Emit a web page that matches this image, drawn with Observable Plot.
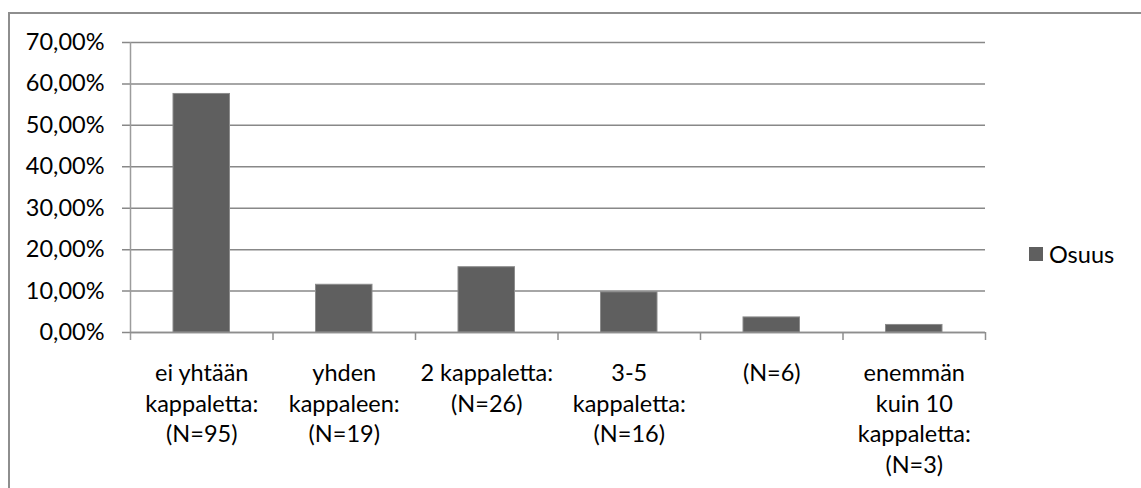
<!DOCTYPE html>
<html>
<head>
<meta charset="utf-8">
<script src="https://cdn.jsdelivr.net/npm/d3@7"></script>
<script src="https://cdn.jsdelivr.net/npm/@observablehq/plot@0.6"></script>
<style>
  html, body { margin: 0; padding: 0; background: #fff; }
  #wrap { position: relative; width: 1141px; height: 488px; overflow: hidden; background: #fff; }
  #frame { position: absolute; left: 8px; top: 12px; width: 1200px; height: 600px;
           border-top: 2px solid #8e8e8e; border-left: 2px solid #8e8e8e; box-sizing: border-box; }
  #chart { position: absolute; left: 0; top: 0; }
  #legend { position: absolute; left: 1029px; top: 237px; }
  #legend svg { margin-right: 6px !important; }
</style>
</head>
<body>
<div id="wrap">
  <div id="frame"></div>
  <div id="chart"></div>
  <div id="legend"></div>
</div>
<script>
// Data
const categories = [
  "ei yhtään\nkappaletta:\n(N=95)",
  "yhden\nkappaleen:\n(N=19)",
  "2 kappaletta:\n(N=26)",
  "3-5\nkappaletta:\n(N=16)",
  "(N=6)",
  "enemmän\nkuin 10\nkappaletta:\n(N=3)"
];
const values = [57.58, 11.52, 15.76, 9.70, 3.64, 1.82]; // percent
const seriesName = "Osuus";
const yTicks = [0, 10, 20, 30, 40, 50, 60, 70];

const fmt = v => v.toFixed(2).replace(".", ",") + "%";
const data = categories.map((c, i) => ({i, label: c, value: values[i]}));
const bounds = d3.range(categories.length + 1);
const barColor = "#5f5f5f";
const font = "Lato, 'Open Sans', sans-serif";
const fs = 23.5;

const chart = Plot.plot({
  width: 1141,
  height: 488,
  marginLeft: 130,
  marginRight: 156,
  marginTop: 42,
  marginBottom: 156,
  x: {domain: [0, categories.length], axis: null},
  y: {domain: [0, 70], axis: null},
  style: {fontFamily: font, fontSize: fs + "px", color: "#000", background: "transparent"},
  marks: [
    Plot.ruleY(yTicks, {y: d => d, stroke: "#888", strokeWidth: 1.5, insetLeft: -8}),
    Plot.rectY(data, {x1: "i", x2: d => d.i + 1, y: "value", insetLeft: 43, insetRight: 43,
      fill: barColor, stroke: "#8c8c8c", strokeWidth: 1}),
    Plot.ruleX([0], {y1: 70, y2: 0, insetBottom: -8, stroke: "#9c9c9c", strokeWidth: 1.5}),
    Plot.ruleY([0], {stroke: "#8e8e8e", strokeWidth: 1.5}),
    Plot.ruleX(bounds.slice(1), {y1: 0, y2: 0, insetBottom: -8, stroke: "#8e8e8e", strokeWidth: 1.5}),
    Plot.text(yTicks, {x: 0, y: d => d, text: fmt, textAnchor: "end", dx: -26,
      fontSize: fs, fill: "#000"}),
    Plot.text(data, {x: d => d.i + 0.5, y: 0, text: "label", lineAnchor: "top", dy: 27,
      lineHeight: 1.3, fontSize: fs, fill: "#000", textAnchor: "middle"})
  ]
});
document.getElementById("chart").appendChild(chart);

const legend = Plot.legend({
  color: {type: "categorical", domain: [seriesName], range: [barColor]},
  legend: "swatches",
  swatchSize: 14,
  style: {fontFamily: font, fontSize: fs + "px", color: "#000", margin: "0"}
});
document.getElementById("legend").appendChild(legend);
</script>
</body>
</html>
